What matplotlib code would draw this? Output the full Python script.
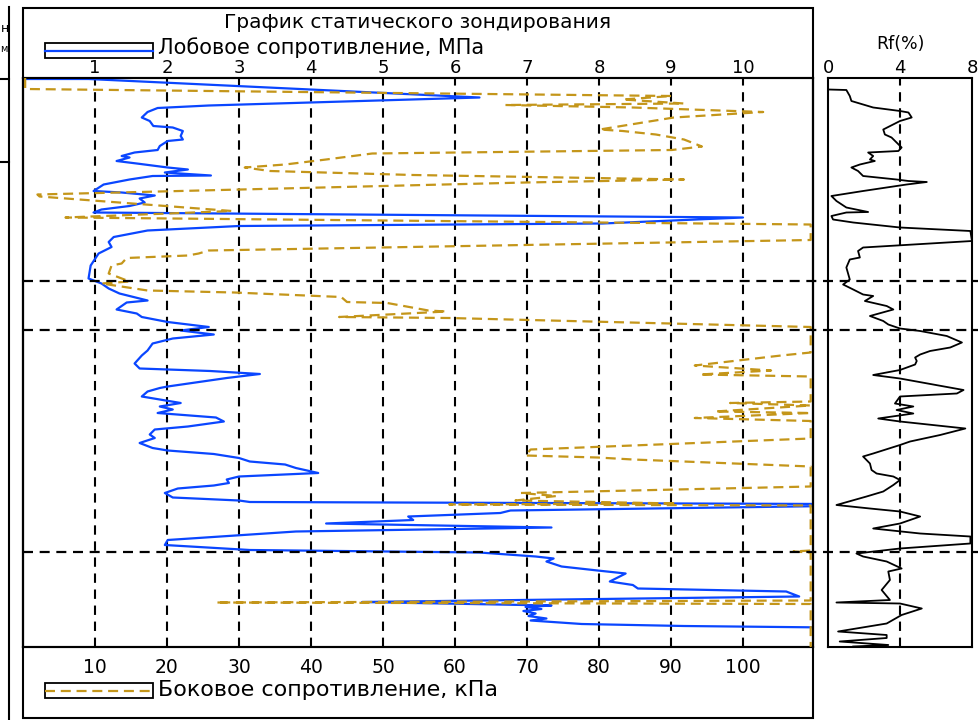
import numpy as np
import matplotlib
matplotlib.use("Agg")
import matplotlib.pyplot as plt
import matplotlib.transforms as mtransforms
from matplotlib.lines import Line2D
from matplotlib.patches import Rectangle

plt.rcParams['font.family'] = ['DejaVu Sans']

# --- data (depth in m, cone resistance in MPa, sleeve friction in kPa, Rf in %) ---
qc_depth = [0.02, 0.02, 0.39, 0.55, 0.60, 0.68, 0.79, 0.86, 0.96, 0.99, 1.06, 1.16, 1.23,
            1.26, 1.36, 1.44, 1.49, 1.56, 1.59, 1.66, 1.71, 1.79, 1.83, 1.89, 1.95, 1.96,
            2.03, 2.13, 2.26, 2.29, 2.35, 2.41, 2.49, 2.56, 2.63, 2.69, 2.79, 2.91, 2.96,
            3.05, 3.18, 3.28, 3.38, 3.51, 3.75, 4.01, 4.11, 4.21, 4.31, 4.45, 4.49, 4.63,
            4.71, 4.78, 4.88, 4.98, 5.05, 5.13, 5.21, 5.31, 5.45, 5.55, 5.71, 5.81, 5.86,
            5.92, 6.00, 6.17, 6.20, 6.27, 6.37, 6.43, 6.50, 6.57, 6.63, 6.70, 6.79, 6.87,
            6.97, 7.03, 7.13, 7.20, 7.30, 7.40, 7.45, 7.52, 7.60, 7.67, 7.73, 7.80, 7.90,
            7.97, 8.03, 8.10, 8.15, 8.21, 8.30, 8.39, 8.45, 8.48, 8.52, 8.56, 8.65, 8.70,
            8.77, 8.84, 8.91, 8.99, 9.07, 9.24, 9.34, 9.44, 9.49, 9.57, 9.61, 9.67, 9.77,
            9.85, 9.91, 10.07, 10.14, 10.21, 10.27, 10.37, 10.48, 10.55, 10.58, 10.62,
            10.66, 10.71, 10.76, 10.81, 10.85, 10.92, 10.96, 10.99]
qc_mpa = [0.0, 0.91, 6.34, 2.58, 1.87, 1.73, 1.65, 1.76, 1.81, 2.08, 2.22, 2.19, 2.22,
          2.01, 1.90, 1.87, 1.55, 1.37, 1.48, 1.30, 1.58, 2.01, 2.29, 1.97, 2.61, 1.80,
          1.48, 1.12, 0.98, 1.37, 1.83, 1.62, 1.69, 1.48, 1.09, 0.98, 10.0, 8.05, 3.00,
          1.73, 1.26, 1.19, 1.23, 1.05, 0.94, 0.91, 1.09, 1.19, 1.34, 1.73, 1.44, 1.30,
          1.58, 1.65, 2.01, 2.58, 2.19, 2.65, 2.08, 1.80, 1.73, 1.65, 1.55, 1.62, 2.60,
          3.29, 2.83, 2.01, 1.90, 1.73, 1.65, 1.90, 2.19, 1.90, 2.08, 1.87, 2.68, 2.79,
          2.29, 1.83, 1.76, 1.83, 1.62, 1.80, 2.01, 2.65, 3.00, 3.15, 3.64, 3.79, 4.10,
          3.00, 2.83, 2.86, 2.65, 2.15, 1.97, 2.08, 3.00, 3.15, 11.2, 11.2, 6.77, 6.63,
          5.35, 5.42, 4.21, 7.34, 3.79, 2.01, 1.97, 3.15, 6.34, 7.12, 7.37, 7.27, 7.48,
          7.98, 8.37, 8.15, 8.47, 8.54, 10.60, 10.78, 4.71, 7.34, 6.98, 7.20,
          6.95, 7.12, 7.02, 7.27, 7.05, 7.76, 9.18, 11.2]

fs_depth = [0.00, 0.22, 0.36, 0.43, 0.51, 0.54, 0.59, 0.68, 0.79, 1.03, 1.06, 1.13, 1.23,
            1.37, 1.44, 1.51, 1.63, 1.73, 1.79, 1.86, 1.94, 2.03, 2.09, 2.33, 2.37, 2.66,
            2.79, 2.93, 3.24, 3.45, 3.51, 3.55, 3.60, 3.71, 3.75, 3.91, 4.07, 4.11, 4.25,
            4.29, 4.38, 4.48, 4.50, 4.65, 4.67, 4.78, 4.80, 4.98, 5.49, 5.55, 5.75, 5.85,
            5.93, 5.97, 6.47, 6.50, 6.55, 6.67, 6.70, 6.80, 6.86, 7.21, 7.43, 7.55, 7.59,
            7.63, 7.77, 8.17, 8.30, 8.36, 8.45, 8.51, 8.53, 8.55, 9.45, 9.47, 9.49, 10.45,
            10.49, 10.52, 11.38]
fs_kpa = [0.3, 0.3, 90.1, 83.3, 91.8, 67.0, 84.7, 102.8, 90.4, 80.1, 83.3, 87.9, 91.8,
          94.3, 90.1, 48.5, 42.1, 36.4, 30.8, 34.3, 54.2, 91.8, 69.8, 2.0, 2.3, 29.0,
          5.9, 109.4, 109.4, 25.8, 24.4, 22.9, 14.4, 13.7, 12.3, 11.9, 14.8, 10.9, 17.3,
          29.3, 44.2, 45.0, 50.6, 56.3, 58.8, 43.9, 59.2, 109.4, 109.4, 105.3, 93.3, 103.9,
          94.0, 109.4, 109.4, 98.2, 109.4, 96.1, 109.4, 93.3, 109.4, 109.4, 70.5, 69.8, 79.8,
          84.7, 109.4, 109.4, 69.1, 74.1, 68.4, 90.8, 59.2, 109.4, 109.4, 107.0, 109.4, 109.4,
          26.8, 109.4, 109.4]

rf_depth = [0.23, 0.24, 0.36, 0.46, 0.59, 0.66, 0.69, 0.79, 0.86, 1.03, 1.13, 1.19, 1.29,
            1.39, 1.46, 1.49, 1.56, 1.63, 1.66, 1.73, 1.79, 1.86, 1.96, 2.03, 2.06, 2.08,
            2.13, 2.26, 2.36, 2.46, 2.59, 2.68, 2.69, 2.76, 2.83, 2.89, 2.99, 3.06, 3.26,
            3.39, 3.46, 3.59, 3.63, 3.79, 4.03, 4.13, 4.23, 4.33, 4.36, 4.46, 4.56, 4.63,
            4.76, 4.86, 4.93, 5.01, 5.06, 5.16, 5.29, 5.39, 5.46, 5.53, 5.59, 5.66, 5.73,
            5.84, 5.94, 6.01, 6.24, 6.31, 6.37, 6.51, 6.57, 6.64, 6.71, 6.81, 6.87, 7.01,
            7.14, 7.27, 7.34, 7.51, 7.57, 7.71, 7.84, 7.91, 7.97, 8.04, 8.14, 8.27, 8.37,
            8.54, 8.61, 8.67, 8.77, 8.84, 8.91, 9.01, 9.11, 9.17, 9.31, 9.41, 9.51, 9.57,
            9.67, 9.81, 9.87, 10.04, 10.24, 10.44, 10.49, 10.51, 10.61, 10.74, 10.91, 11.07,
            11.14, 11.20, 11.27, 11.34, 11.37]
rf_pct = [0.0, 1.02, 1.21, 1.30, 2.51, 4.00, 4.47, 4.65, 4.00, 3.07, 3.16, 3.53, 3.81,
          4.09, 3.91, 2.23, 2.51, 2.33, 2.60, 1.77, 1.30, 1.67, 1.95, 3.81, 4.47, 5.49,
          4.37, 1.95, 0.19, 0.47, 1.02, 2.23, 1.02, 0.19, 0.28, 1.40, 4.00, 7.91, 8.00,
          1.95, 1.67, 1.77, 1.21, 1.02, 1.21, 0.84, 1.40, 1.95, 2.51, 2.05, 3.26, 3.63,
          2.33, 3.07, 3.35, 4.00, 5.12, 6.60, 7.44, 6.79, 5.67, 5.12, 4.84, 4.93, 4.84,
          4.00, 2.51, 4.00, 7.53, 7.16, 4.00, 3.72, 4.74, 3.81, 4.74, 2.79, 4.00, 7.63,
          6.23, 4.56, 4.00, 2.51, 1.95, 2.33, 2.42, 2.70, 3.63, 4.00, 3.63, 3.07, 2.14,
          0.47, 2.33, 4.00, 5.12, 4.56, 4.00, 2.51, 5.12, 7.91, 7.91, 4.00, 1.58, 1.95,
          3.26, 4.09, 3.35, 3.44, 2.98, 3.44, 0.47, 4.00, 5.21, 4.09, 3.26, 0.56,
          3.26, 3.26, 0.65, 3.35, 1.40]

layer_bounds = [4.06, 5.04, 9.48]
qc_ticks = [1, 2, 3, 4, 5, 6, 7, 8, 9, 10]
fs_ticks = [10, 20, 30, 40, 50, 60, 70, 80, 90, 100]
rf_ticks = [0, 4, 8]

BLUE = '#0A46FF'
GOLD = '#C4961A'

W, H = 979, 720


def fx(px):
    return px / W


def fy(py):
    return 1 - py / H


fig = plt.figure(figsize=(W / 100, H / 100), dpi=100)

# main panel: qc on ax (top scale), fs on ax2 (bottom scale)
ax = fig.add_axes([fx(23), fy(647), fx(813) - fx(23), fy(78) - fy(647)])
ax.set_xlim(0, 790 / 72)
ax.set_ylim(11.38, 0)
ax.set_yticks([])
for v in qc_ticks:
    ax.axvline(v, color='black', lw=1.5, linestyle=(0, (4.5, 3.2)), zorder=1)
ax.plot(qc_mpa, qc_depth, color=BLUE, lw=1.6, zorder=3)

ax2 = ax.twiny()   # twiny pushes ax ticks to bottom, so reset below
ax2.set_xlim(0, 790 / 7.2)
ax2.xaxis.tick_bottom()
ax2.set_xticks(fs_ticks)
ax2.set_xticklabels([str(t) for t in fs_ticks], fontsize=13.5)
ax2.tick_params(axis='x', length=0, pad=8)
ax2.plot(fs_kpa, fs_depth, color=GOLD, lw=1.6, linestyle=(0, (4.5, 2.6)), zorder=3)

ax.xaxis.tick_top()
ax.set_xticks(qc_ticks)
ax.set_xticklabels([str(t) for t in qc_ticks], fontsize=13)
ax.tick_params(axis='x', length=0, pad=0.5)

for a in (ax, ax2):
    for s in a.spines.values():
        s.set_linewidth(1.5)

# Rf panel
axr = fig.add_axes([fx(828), fy(647), fx(972) - fx(828), fy(78) - fy(647)])
axr.set_xlim(0, 8)
axr.set_ylim(11.38, 0)
axr.xaxis.tick_top()
axr.set_xticks(rf_ticks)
axr.set_xticklabels([str(t) for t in rf_ticks], fontsize=13)
axr.tick_params(axis='x', length=0, pad=0.5)
axr.set_yticks([])
axr.axvline(4, color='black', lw=1.5, linestyle=(0, (4.5, 3.2)), zorder=1)
axr.plot(rf_pct, rf_depth, color='black', lw=1.3, zorder=3)
for s in axr.spines.values():
    s.set_linewidth(1.5)
fig.text(fx(900), fy(44), 'Rf(%)', ha='center', va='center', fontsize=12.5)

# layer boundaries across both panels
blend = mtransforms.blended_transform_factory(fig.transFigure, ax.transData)
for d in layer_bounds:
    fig.add_artist(Line2D([fx(23), 1.0], [d, d], transform=blend, color='black',
                          lw=1.6, linestyle=(0, (4.5, 3.0)), zorder=5))

# outer frame and header
fig.add_artist(Rectangle((fx(23), fy(718)), fx(813) - fx(23), fy(8) - fy(718),
                         transform=fig.transFigure, fill=False, lw=1.5, color='black'))
fig.text(fx(418), fy(22), 'График статического зондирования', ha='center', va='center',
         fontsize=14.5)

# legend boxes
fig.add_artist(Rectangle((fx(45), fy(58)), fx(153) - fx(45), fy(43) - fy(58),
                         transform=fig.transFigure, fill=False, lw=1.3, color='black'))
fig.add_artist(Line2D([fx(45), fx(153)], [fy(50.5), fy(50.5)], transform=fig.transFigure,
                      color=BLUE, lw=1.6))
fig.text(fx(158), fy(48), 'Лобовое сопротивление, МПа', ha='left', va='center', fontsize=15)

fig.add_artist(Rectangle((fx(45), fy(698)), fx(153) - fx(45), fy(683) - fy(698),
                         transform=fig.transFigure, fill=False, lw=1.3, color='black'))
fig.add_artist(Line2D([fx(45), fx(153)], [fy(690.5), fy(690.5)], transform=fig.transFigure,
                      color=GOLD, lw=1.6, linestyle=(0, (4.5, 2.6))))
fig.text(fx(158), fy(690), 'Боковое сопротивление, кПа', ha='left', va='center', fontsize=16)

# neighbouring table column at the left edge
fig.add_artist(Line2D([fx(9), fx(9)], [fy(7), 0], transform=fig.transFigure, color='black', lw=1.5))
fig.add_artist(Line2D([0, fx(9)], [fy(79), fy(79)], transform=fig.transFigure, color='black', lw=1.5))
fig.add_artist(Line2D([0, fx(9)], [fy(162), fy(162)], transform=fig.transFigure, color='black', lw=1.5))
fig.text(fx(0.5), fy(28), 'н', ha='left', va='center', fontsize=9)
fig.text(fx(0.5), fy(49), 'м', ha='left', va='center', fontsize=7)

plt.savefig('out.png', dpi=100)
plt.close()
